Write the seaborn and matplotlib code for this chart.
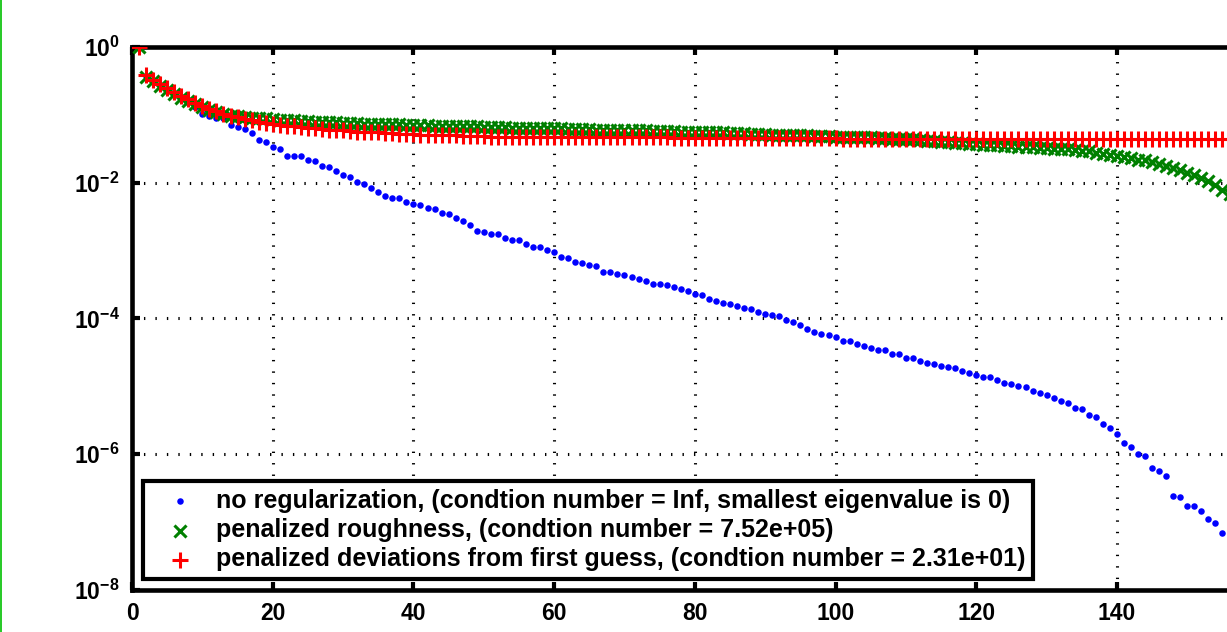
import numpy as np
import matplotlib
matplotlib.use("Agg")
import matplotlib.pyplot as plt
import seaborn as sns
from matplotlib.lines import Line2D
from matplotlib.ticker import FixedLocator, NullLocator

# iteration index (1..156, the plot is cut at ~155.6 on the right)
iteration = np.arange(1, 157)

# log10 of the normalised values
log_no_reg = [
    0.00, -0.43, -0.49, -0.56, -0.62, -0.68, -0.74, -0.81, -0.88, -0.98,
    -1.01, -1.04, -1.04, -1.15, -1.18, -1.21, -1.27, -1.37, -1.40, -1.47,
    -1.50, -1.60, -1.61, -1.61, -1.66, -1.68, -1.75, -1.77, -1.83, -1.88,
    -1.91, -1.99, -2.02, -2.08, -2.14, -2.20, -2.22, -2.22, -2.28, -2.32,
    -2.33, -2.37, -2.39, -2.44, -2.46, -2.52, -2.57, -2.63, -2.71, -2.72,
    -2.76, -2.76, -2.82, -2.84, -2.85, -2.91, -2.95, -2.95, -2.99, -3.02,
    -3.09, -3.11, -3.17, -3.18, -3.21, -3.23, -3.32, -3.32, -3.35, -3.36,
    -3.39, -3.42, -3.45, -3.49, -3.50, -3.51, -3.54, -3.57, -3.59, -3.64,
    -3.65, -3.71, -3.74, -3.78, -3.79, -3.82, -3.84, -3.86, -3.91, -3.93,
    -3.95, -3.97, -4.02, -4.05, -4.10, -4.16, -4.20, -4.23, -4.24, -4.28,
    -4.33, -4.33, -4.38, -4.40, -4.43, -4.46, -4.47, -4.52, -4.52, -4.58,
    -4.59, -4.63, -4.66, -4.67, -4.70, -4.71, -4.73, -4.77, -4.81, -4.84,
    -4.87, -4.87, -4.91, -4.95, -4.97, -4.99, -5.01, -5.07, -5.10, -5.13,
    -5.17, -5.22, -5.25, -5.32, -5.34, -5.43, -5.46, -5.56, -5.61, -5.70,
    -5.84, -5.89, -6.00, -6.03, -6.20, -6.25, -6.32, -6.62, -6.64, -6.77,
    -6.77, -6.84, -6.96, -7.02, -7.16, -7.24,
]

log_roughness = [
    0.00, -0.44, -0.50, -0.57, -0.63, -0.69, -0.75, -0.79, -0.84, -0.88,
    -0.93, -0.96, -0.98, -1.01, -1.02, -1.03, -1.04, -1.04, -1.05, -1.06,
    -1.07, -1.07, -1.08, -1.09, -1.09, -1.10, -1.10, -1.11, -1.11, -1.12,
    -1.12, -1.12, -1.13, -1.13, -1.13, -1.14, -1.14, -1.14, -1.15, -1.15,
    -1.15, -1.15, -1.16, -1.16, -1.16, -1.17, -1.17, -1.17, -1.17, -1.18,
    -1.18, -1.18, -1.18, -1.19, -1.19, -1.19, -1.19, -1.20, -1.20, -1.20,
    -1.20, -1.21, -1.21, -1.21, -1.21, -1.22, -1.22, -1.22, -1.22, -1.23,
    -1.23, -1.23, -1.23, -1.24, -1.24, -1.24, -1.24, -1.25, -1.25, -1.25,
    -1.25, -1.26, -1.26, -1.26, -1.27, -1.27, -1.27, -1.28, -1.28, -1.28,
    -1.29, -1.29, -1.29, -1.30, -1.30, -1.30, -1.31, -1.31, -1.31, -1.32,
    -1.32, -1.32, -1.33, -1.33, -1.33, -1.34, -1.34, -1.35, -1.35, -1.36,
    -1.36, -1.37, -1.38, -1.39, -1.40, -1.40, -1.41, -1.42, -1.43, -1.43,
    -1.44, -1.44, -1.45, -1.46, -1.46, -1.47, -1.47, -1.48, -1.49, -1.49,
    -1.50, -1.51, -1.51, -1.52, -1.53, -1.54, -1.56, -1.57, -1.59, -1.60,
    -1.62, -1.64, -1.66, -1.67, -1.69, -1.72, -1.76, -1.79, -1.82, -1.85,
    -1.89, -1.93, -1.98, -2.04, -2.11, -2.17,
]

log_first_guess = [
    0.00, -0.41, -0.48, -0.54, -0.60, -0.66, -0.72, -0.76, -0.82, -0.87,
    -0.91, -0.94, -0.98, -1.01, -1.03, -1.06, -1.08, -1.10, -1.12, -1.13,
    -1.15, -1.16, -1.17, -1.18, -1.19, -1.20, -1.21, -1.22, -1.23, -1.23,
    -1.24, -1.25, -1.25, -1.26, -1.26, -1.27, -1.27, -1.28, -1.28, -1.28,
    -1.29, -1.29, -1.29, -1.30, -1.30, -1.30, -1.31, -1.31, -1.31, -1.31,
    -1.32, -1.32, -1.32, -1.32, -1.32, -1.32, -1.32, -1.32, -1.32, -1.32,
    -1.32, -1.33, -1.33, -1.33, -1.33, -1.33, -1.33, -1.33, -1.33, -1.33,
    -1.33, -1.33, -1.33, -1.33, -1.33, -1.33, -1.34, -1.34, -1.34, -1.34,
    -1.34, -1.34, -1.34, -1.34, -1.34, -1.34, -1.34, -1.34, -1.34, -1.34,
    -1.34, -1.34, -1.34, -1.34, -1.34, -1.34, -1.34, -1.34, -1.34, -1.34,
    -1.35, -1.35, -1.35, -1.35, -1.35, -1.35, -1.35, -1.35, -1.35, -1.35,
    -1.35, -1.35, -1.35, -1.35, -1.35, -1.35, -1.35, -1.35, -1.35, -1.35,
    -1.35, -1.35, -1.35, -1.35, -1.35, -1.35, -1.35, -1.35, -1.35, -1.35,
    -1.36, -1.36, -1.36, -1.36, -1.36, -1.36, -1.36, -1.36, -1.36, -1.36,
    -1.36, -1.36, -1.36, -1.36, -1.36, -1.36, -1.36, -1.36, -1.36, -1.36,
    -1.36, -1.36, -1.36, -1.36, -1.36, -1.36,
]

legend_labels = [
    "no regularization, (condtion number = Inf, smallest eigenvalue is 0)",
    "penalized roughness, (condtion number = 7.52e+05)",
    "penalized deviations from first guess, (condtion number = 2.31e+01)",
]

x_ticks = [0, 20, 40, 60, 80, 100, 120, 140]
y_ticks = [1e0, 1e-2, 1e-4, 1e-6, 1e-8]

sns.set_style("ticks")
plt.rcParams["font.family"] = ["Liberation Sans", "DejaVu Sans"]
plt.rcParams["font.weight"] = "bold"
plt.rcParams["text.color"] = "black"
plt.rcParams["xtick.color"] = "black"
plt.rcParams["ytick.color"] = "black"
plt.rcParams["mathtext.fontset"] = "custom"
plt.rcParams["mathtext.rm"] = "Liberation Sans:bold"
plt.rcParams["mathtext.bf"] = "Liberation Sans:bold"
plt.rcParams["mathtext.default"] = "bf"

fig = plt.figure(figsize=(12.27, 6.32), dpi=100)
ax = fig.add_axes([0.1076, 0.0669, 0.9174, 0.8587])

sns.scatterplot(x=iteration, y=10.0 ** np.array(log_no_reg), ax=ax, marker="o",
                s=22, color="#0000ff", linewidth=0, label=legend_labels[0], zorder=3)
sns.scatterplot(x=iteration, y=10.0 ** np.array(log_roughness), ax=ax, marker="x",
                s=75, color="#008000", linewidth=2.2, label=legend_labels[1], zorder=4)
sns.scatterplot(x=iteration, y=10.0 ** np.array(log_first_guess), ax=ax, marker="+",
                s=120, color="#ff0000", linewidth=2.2, label=legend_labels[2], zorder=5)

ax.set_yscale("log")
ax.set_ylim(1e-8, 1e0)
ax.set_xlim(0, 160)
ax.xaxis.set_major_locator(FixedLocator(x_ticks))
ax.yaxis.set_major_locator(FixedLocator(y_ticks))
ax.yaxis.set_minor_locator(NullLocator())

ax.grid(True, which="major", color="black", linestyle=(0, (0.45, 3.3)), linewidth=2.2)
ax.set_axisbelow(True)

for sp in ax.spines.values():
    sp.set_linewidth(3.3)
    sp.set_color("black")
ax.tick_params(which="major", direction="in", length=6, width=3, top=True, right=True,
               labelsize=16.5, pad=9, color="black", labelcolor="black")
ax.set_xlabel("")
ax.set_ylabel("")

leg = ax.legend(loc="lower left", bbox_to_anchor=(0.01, 0.02), borderaxespad=0,
                prop={"size": 18, "weight": "bold"}, frameon=True, fancybox=False,
                framealpha=1, handlelength=2.3, handletextpad=0.3, borderpad=0.3,
                labelspacing=0.21)
leg.get_frame().set_edgecolor("black")
leg.get_frame().set_linewidth(3.0)

# thin green frame edge on the left of the screenshot
fig.add_artist(Line2D([0.0008, 0.0008], [0, 1], transform=fig.transFigure,
                      color="#00c000", linewidth=1.2))

fig.savefig("out.png", dpi=100)
